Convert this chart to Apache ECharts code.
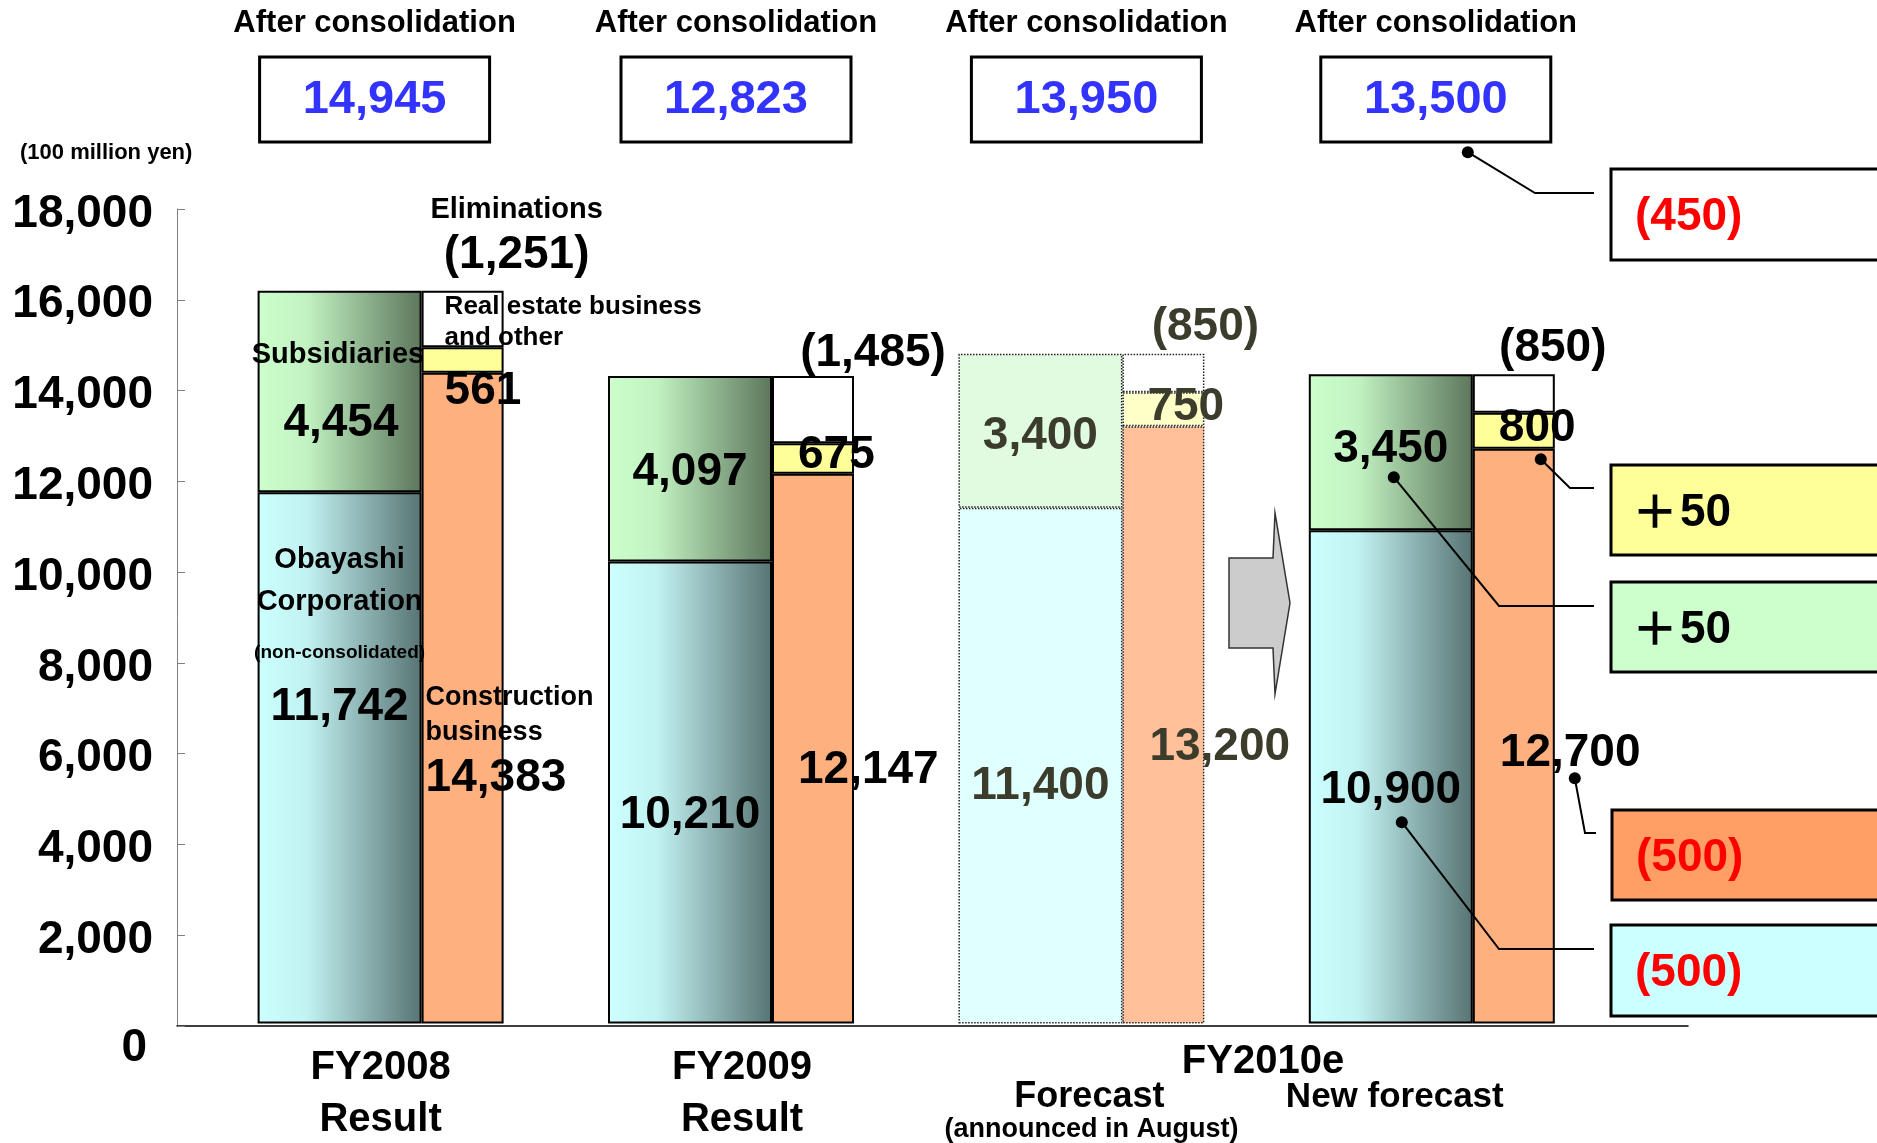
<!DOCTYPE html>
<html><head><meta charset="utf-8">
<script src="https://cdn.jsdelivr.net/npm/echarts@6/dist/echarts.min.js"></script>
<style>html,body{margin:0;padding:0;background:#fff}#c{width:1877px;height:1143px}</style>
</head><body><div id="c"></div>
<script>
// ---------- data ----------
const categories = ['FY2008 Result', 'FY2009 Result', 'FY2010e Forecast', 'FY2010e New forecast'];
const obayashi = [11742, 10210, 11400, 10900];
const subsidiaries = [4454, 4097, 3400, 3450];
const construction = [14383, 12147, 13200, 12700];
const realEstate = [561, 675, 750, 800];
const eliminations = [1251, 1485, 850, 850];
const afterConsolidation = [14945, 12823, 13950, 13500];
const changes = [-450, 50, 50, -500, -500];
const yMin = 0, yMax = 18000, yStep = 2000;

// ---------- styles / layout ----------
const FF = '"Liberation Sans", Arial, Helvetica, sans-serif';
const CJK = '"Noto Sans CJK JP", "Noto Sans CJK SC", sans-serif';
const FADED = 2;
const LDY = 3;
const fmt = n => n.toLocaleString('en-US');
function grad(a, b, c) {
  return {type: 'linear', x: 0, y: 0, x2: 1, y2: 0,
    colorStops: [{offset: 0, color: a}, {offset: 0.3, color: b}, {offset: 1, color: c}]};
}
const solidFill = {
  obayashi: grad('#ccffff', '#c2f2f2', '#587373'),
  subsidiaries: grad('#ccffcc', '#c2f2c2', '#5c765c'),
  construction: '#ffb07f', realEstate: '#ffff99', eliminations: '#ffffff'
};
const fadedFill = {obayashi: '#e0ffff', subsidiaries: '#e0fbe0', construction: '#ffc09a', realEstate: '#ffffc8', eliminations: '#ffffff'};
const labelLayout = {
  obayashi: [['50%', 44, 'center', 'top'], ['50%', 251, 'center', 'middle'], ['50%', 276, 'center', 'middle'], ['50%', 257, 'center', 'middle']],
  subsidiaries: [['49%', 39, 'center', 'top'], ['50%', 93, 'center', 'middle'], ['50%', 80, 'center', 'middle'], ['50%', 72, 'center', 'middle']],
  construction: [[4, 304, 'left', 'top'], [26, 293, 'left', 'middle'], [27, 318, 'left', 'middle'], [27, 301, 'left', 'middle']],
  realEstate: [[23, -59, 'left', 'top'], [26, 9, 'left', 'middle'], [25, 12, 'left', 'middle'], [26, 13, 'left', 'middle']],
  eliminations: [[95, -102, 'center', 'top'], [101, -26, 'center', 'middle'], [83, -29, 'center', 'middle'], [80, -29, 'center', 'middle']]
};
const captions = {
  obayashi: '{t|Obayashi}\n{t|Corporation}\n{s|(non-consolidated)}\n',
  subsidiaries: '{t|Subsidiaries}\n',
  construction: '{t|Construction}\n{t|business}\n',
  realEstate: '{t|Real estate business}\n{t|and other}\n',
  eliminations: '{t|Eliminations}\n'
};
const rich = {
  obayashi: {t: {fontSize: 29, lineHeight: 42}, s: {fontSize: 19, lineHeight: 60}, v0: {fontSize: 46, lineHeight: 48}},
  subsidiaries: {t: {fontSize: 29, lineHeight: 44}, v0: {fontSize: 46, lineHeight: 94, padding: [0, 0, 0, 6]}},
  construction: {t: {fontSize: 27, lineHeight: 35}, v0: {fontSize: 46, lineHeight: 57}},
  realEstate: {t: {fontSize: 26, lineHeight: 31}, v0: {fontSize: 46, lineHeight: 77}},
  eliminations: {t: {fontSize: 29, lineHeight: 36}, v0: {fontSize: 46, lineHeight: 56}}
};
const boxDx = [-6, 5, 5, 4];
const callouts = [
  {anchor: 19255, dx: 36, elbow: [1535, 193], end: [1594, 193], box: [1611, 169, 91], fill: '#ffffff', color: '#ff0000'},
  {anchor: 12470, dx: 109, elbow: [1570, 488], end: [1594, 488], box: [1611, 465, 90], fill: '#ffff99', color: '#000000'},
  {anchor: 12073, dx: -38, elbow: [1499, 606], end: [1594, 606], box: [1611, 582, 90], fill: '#ccffcc', color: '#000000'},
  {anchor: 5420, dx: 143, elbow: [1585, 833], end: [1596, 833], box: [1612, 810, 90], fill: '#ff9f66', color: '#ff0000'},
  {anchor: 4450, dx: -30, elbow: [1499, 949], end: [1594, 949], box: [1611, 925, 91], fill: '#ccffff', color: '#ff0000'}
];

function withFont(r) {
  const out = {v: {fontSize: 46, lineHeight: 56, fontWeight: 'bold', fontFamily: FF}};
  for (const k in r) out[k] = Object.assign({fontWeight: 'bold', fontFamily: FF}, r[k]);
  return out;
}
function makeSeries(key, values, stack, width, paren) {
  return {
    type: 'bar', name: key, stack: stack, barWidth: width, barGap: '0%',
    xAxisIndex: 1, yAxisIndex: 1, z: 3,
    data: values.map((v, i) => {
      const L = labelLayout[key][i];
      const faded = i === FADED;
      return {
        value: v,
        itemStyle: faded
          ? {color: fadedFill[key], borderColor: '#222', borderWidth: 1.5, borderType: 'dotted'}
          : {color: solidFill[key], borderColor: '#000', borderWidth: 2},
        label: {position: [L[0], L[1] + LDY], align: L[2], verticalAlign: L[3], color: faded ? '#3c3c2c' : '#000'}
      };
    }),
    label: {
      show: true, fontFamily: FF, fontWeight: 'bold', fontSize: 46,
      formatter: p => {
        const t = paren ? '(' + fmt(p.value) + ')' : fmt(p.value);
        return p.dataIndex === 0 ? captions[key] + '{v0|' + t + '}' : '{v|' + t + '}';
      },
      rich: withFont(rich[key])
    }
  };
}

const chart = echarts.init(document.getElementById('c'), null, {renderer: 'canvas'});
const axisFont = {fontFamily: FF, fontWeight: 'bold', color: '#000'};
chart.setOption({
  animation: false,
  backgroundColor: '#ffffff',
  grid: [
    {left: 177, top: 209, width: 1511, height: 817},
    {left: 205.4, top: 209, width: 1401.6, height: 817}
  ],
  xAxis: [
    {type: 'value', gridIndex: 0, min: 0, max: 1, axisLabel: {show: false}, axisTick: {show: false}, splitLine: {show: false},
      axisLine: {show: true, lineStyle: {color: '#000', width: 1.5}}},
    {type: 'category', gridIndex: 1, data: categories, axisLine: {show: false}, axisTick: {show: false},
      axisLabel: {
        interval: 0, margin: 18, color: '#000',
        formatter: (val, idx) => {
          if (idx === 0) return '{a|FY2008}\n{a|Result}';
          if (idx === 1) return '{b|FY2009}\n{b|Result}';
          if (idx === 2) return '{e| }\n{f|Forecast}\n{s|(announced in August)}';
          return '{e| }\n{g|New forecast}';
        },
        rich: {
          a: Object.assign({fontSize: 40, lineHeight: 52}, axisFont),
          b: Object.assign({fontSize: 40, lineHeight: 52, padding: [0, 0, 0, 22]}, axisFont),
          e: Object.assign({fontSize: 12, lineHeight: 39}, axisFont),
          f: Object.assign({fontSize: 36, lineHeight: 34, padding: [0, 0, 0, 16]}, axisFont),
          s: Object.assign({fontSize: 27, lineHeight: 30, padding: [0, 0, 0, 20]}, axisFont),
          g: Object.assign({fontSize: 35, lineHeight: 34, padding: [0, 74, 0, 0]}, axisFont)
        }
      }}
  ],
  yAxis: [
    {type: 'value', gridIndex: 0, min: yMin, max: yMax, interval: yStep,
      axisLine: {show: true, lineStyle: {color: '#808080', width: 1}},
      axisTick: {show: true, inside: true, length: 8, lineStyle: {color: '#808080'}},
      splitLine: {show: false},
      axisLabel: {margin: 24, fontSize: 46, fontFamily: FF, fontWeight: 'bold', color: '#000',
        formatter: v => v === 0 ? '{z|0}' : '{n|' + fmt(v) + '}',
        rich: {
          n: {fontSize: 46, fontFamily: FF, fontWeight: 'bold', color: '#000', padding: [10, 0, 0, 0]},
          z: {fontSize: 46, fontFamily: FF, fontWeight: 'bold', color: '#000', padding: [44, 6, 0, 0]}
        }}},
    {type: 'value', gridIndex: 1, min: yMin, max: yMax, interval: yStep, show: false, splitLine: {show: false}}
  ],
  graphic: [
    {type: 'text', x: 20, y: 153, style: {text: '(100 million yen)', fontSize: 22, fontWeight: 'bold', fontFamily: FF, fill: '#000', align: 'left', verticalAlign: 'middle'}},
    {type: 'text', x: 1263, y: 1062, style: {text: 'FY2010e', fontSize: 40, fontWeight: 'bold', fontFamily: FF, fill: '#000', align: 'center', verticalAlign: 'middle'}},
    {type: 'polygon', shape: {points: [[1229, 558], [1273, 558], [1275, 513], [1290, 603], [1275, 694], [1273, 648], [1229, 648]]},
      style: {fill: '#cccccc', stroke: '#333', lineWidth: 1.5}}
  ],
  series: [
    makeSeries('obayashi', obayashi, 'L', 164, false),
    makeSeries('subsidiaries', subsidiaries, 'L', 164, false),
    makeSeries('construction', construction, 'R', 82, false),
    makeSeries('realEstate', realEstate, 'R', 82, false),
    makeSeries('eliminations', eliminations, 'R', 82, true),
    {
      type: 'custom', name: 'afterConsolidation', xAxisIndex: 1, yAxisIndex: 1, clip: false, z: 5,
      data: afterConsolidation.map((v, i) => [i, v]),
      encode: {x: 0, y: 1},
      renderItem: (params, api) => {
        const i = params.dataIndex;
        const x = api.coord([api.value(0), 0])[0] + boxDx[i];
        return {type: 'group', children: [
          {type: 'text', x: x, y: 23, style: {text: 'After consolidation', fontSize: 31, fontWeight: 'bold', fontFamily: FF, fill: '#000', align: 'center', verticalAlign: 'middle'}},
          {type: 'rect', shape: {x: x - 115, y: 57, width: 230, height: 85}, style: {fill: '#fff', stroke: '#000', lineWidth: 3}},
          {type: 'text', x: x, y: 100, style: {text: fmt(api.value(1)), fontSize: 47, fontWeight: 'bold', fontFamily: FF, fill: '#3333ff', align: 'center', verticalAlign: 'middle'}}
        ]};
      }
    },
    {
      type: 'custom', name: 'changes', xAxisIndex: 1, yAxisIndex: 1, clip: false, z: 6,
      data: changes.map(v => [3, v]),
      encode: {x: 0, y: 1},
      renderItem: (params, api) => {
        const i = params.dataIndex, L = callouts[i], v = api.value(1);
        const c = api.coord([3, L.anchor]);
        const dot = [c[0] + L.dx, c[1]];
        const ty = L.box[1] + L.box[2] / 2 + 3;
        const children = [
          {type: 'polyline', shape: {points: [dot, L.elbow, L.end]}, style: {stroke: '#000', lineWidth: 2, fill: 'none'}},
          {type: 'circle', shape: {cx: dot[0], cy: dot[1], r: 6}, style: {fill: '#000'}},
          {type: 'rect', shape: {x: L.box[0], y: L.box[1], width: 330, height: L.box[2]}, style: {fill: L.fill, stroke: '#000', lineWidth: 3}}
        ];
        if (v < 0) {
          children.push({type: 'text', x: L.box[0] + 24, y: ty, style: {text: '(' + fmt(-v) + ')', fontSize: 46, fontWeight: 'bold', fontFamily: FF, fill: L.color, align: 'left', verticalAlign: 'middle'}});
        } else {
          children.push({type: 'text', x: L.box[0] + 44, y: ty - 2, style: {text: '\uFF0B', fontSize: 46, fontWeight: 'bold', fontFamily: CJK, fill: L.color, align: 'center', verticalAlign: 'middle'}});
          children.push({type: 'text', x: L.box[0] + 69, y: ty, style: {text: fmt(v), fontSize: 46, fontWeight: 'bold', fontFamily: FF, fill: L.color, align: 'left', verticalAlign: 'middle'}});
        }
        return {type: 'group', children: children};
      }
    }
  ]
});
</script>
</body></html>
